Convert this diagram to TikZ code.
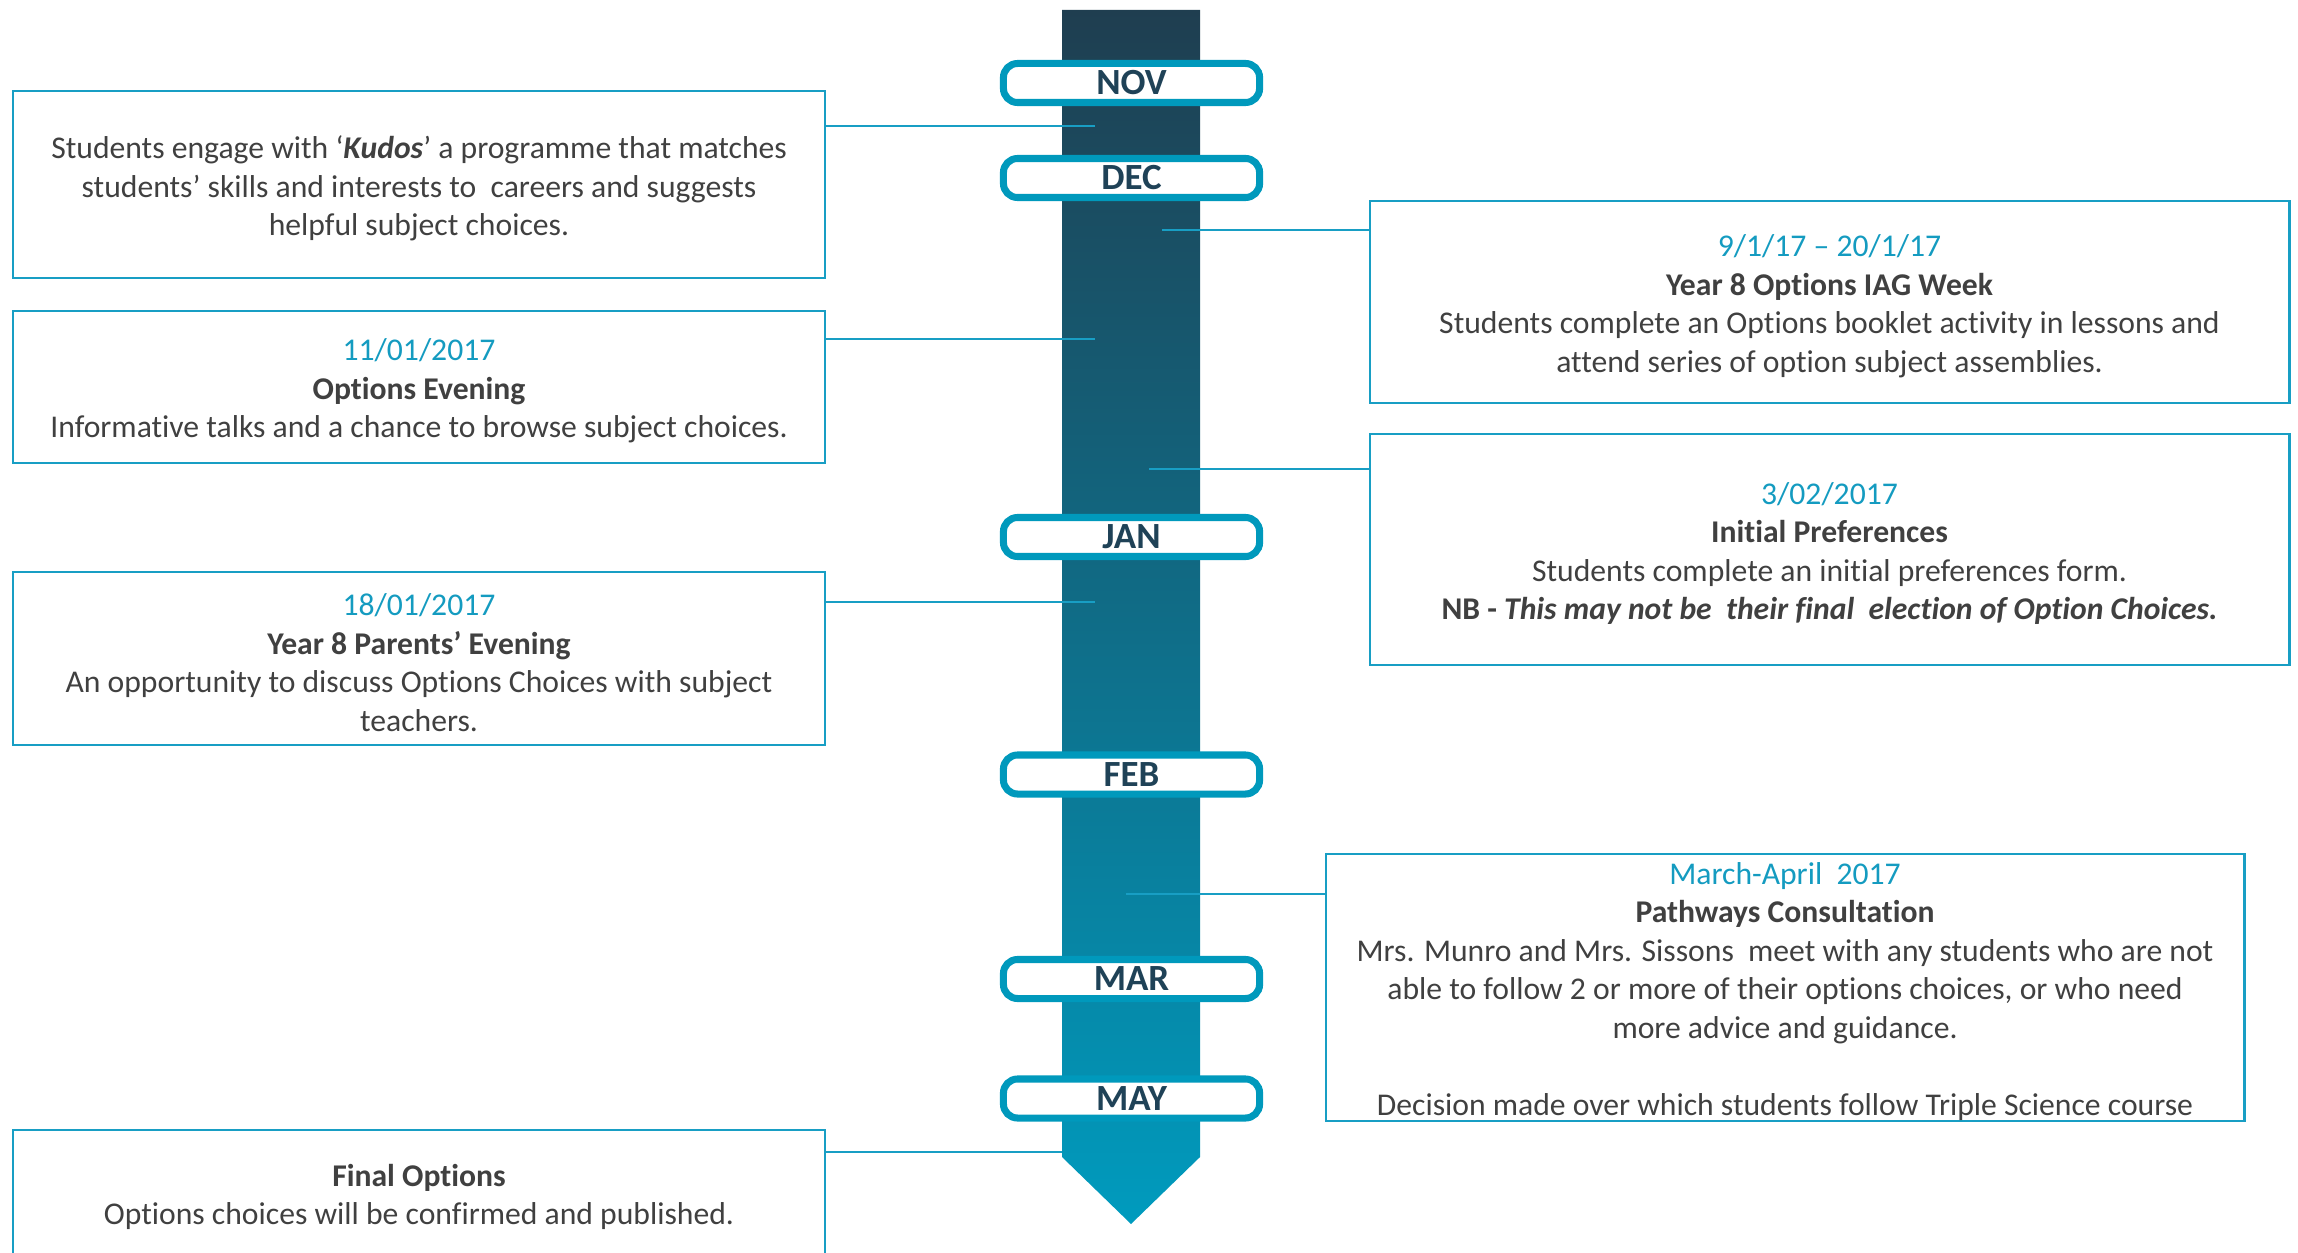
\documentclass[tikz,border=0pt]{standalone}
\usepackage{fontspec}
\setmainfont{Carlito}[Ligatures=NoCommon]
\definecolor{boxline}{RGB}{24,158,196}
\definecolor{monthline}{RGB}{0,153,188}
\definecolor{monthtext}{RGB}{31,66,87}
\definecolor{bodytext}{RGB}{64,64,64}
\definecolor{datecol}{RGB}{20,155,192}
\definecolor{arrowtop}{RGB}{31,62,80}
\definecolor{arrowbot}{RGB}{0,155,190}
\newcommand\evdate[1]{\textcolor{datecol}{#1}}
\begin{document}
\begin{tikzpicture}[x=0.01cm,y=-0.01cm,
  evbox/.style={draw=boxline, line width=0.7pt, inner sep=0pt},
  evtext/.style={inner sep=0pt, align=center,
    font=\fontsize{9}{10.95}\selectfont, text=bodytext},
  monthbox/.style={draw=monthline, line width=2pt, fill=white, rounded corners=4pt,
    minimum width=2.56cm, minimum height=0.39cm, inner sep=0pt,
    font=\fontsize{10.5}{12}\selectfont\bfseries, text=monthtext},
  conn/.style={draw=boxline, line width=0.6pt}]
\useasboundingbox (0,0) rectangle (2298,1252);
\clip (0,0) rectangle (2298,1252);

% timeline arrow
\shade[top color=arrowtop, bottom color=arrowbot]
  (1062,10) -- (1200,10) -- (1200,1157) -- (1131,1224) -- (1062,1157) -- cycle;

% connector ends
\coordinate (c1) at (1095,126);
\coordinate (c2) at (1095,339);
\coordinate (c3) at (1095,602);
\coordinate (c4) at (1062,1152);
\coordinate (r1) at (1162,230);
\coordinate (r2) at (1149,469);
\coordinate (r3) at (1126,894);

% event boxes
\node[evbox, minimum width=8.12cm, minimum height=1.87cm] (b1) at (419,184.5) {};
\node[evbox, minimum width=8.12cm, minimum height=1.52cm] (b2) at (419,387) {};
\node[evbox, minimum width=8.12cm, minimum height=1.73cm] (b3) at (419,658.5) {};
\node[evbox, minimum width=8.12cm, minimum height=1.26cm] (b4) at (419,1193) {};
\node[evbox, minimum width=9.19cm, minimum height=2.02cm] (e1) at (1829.5,302) {};
\node[evbox, minimum width=9.19cm, minimum height=2.31cm] (e2) at (1829.5,549.5) {};
\node[evbox, minimum width=9.18cm, minimum height=2.67cm] (e3) at (1785,987.5) {};

% event texts
\node[evtext] (t1) at ([yshift=-0.04cm]b1.center)
  {Students engage with ‘\textbf{\textit{Kudos}}’ a programme that matches\\
   students’ skills and interests to\ \ careers and suggests\\
   helpful subject choices.};
\node[evtext] (t2) at ([yshift=-0.04cm]b2.center)
  {\evdate{11/01/2017}\\
   \textbf{Options Evening}\\
   Informative talks and a chance to browse subject choices.};
\node[evtext] (t3) at ([yshift=-0.04cm]b3.center)
  {\evdate{18/01/2017}\\
   \textbf{Year 8 Parents’ Evening}\\
   An opportunity to discuss Options Choices with subject\\
   teachers.};
\node[evtext] (t4) at ([yshift=-0.04cm]b4.center)
  {\textbf{Final Options}\\
   Options choices will be confirmed and published.};
\node[evtext] (u1) at ([yshift=-0.04cm]e1.center)
  {\evdate{9/1/17 – 20/1/17}\\
   \textbf{Year 8 Options IAG Week}\\
   Students complete an Options booklet activity in lessons and\\
   attend series of option subject assemblies.};
\node[evtext] (u2) at ([yshift=-0.04cm]e2.center)
  {\evdate{3/02/2017}\\
   \textbf{Initial Preferences}\\
   Students complete an initial preferences form.\\
   \textbf{NB -} \textbf{\textit{This may not be\ \ their final\ \ election of Option Choices.}}};
\node[evtext] (u3) at ([yshift=-0.04cm]e3.center)
  {\evdate{March-April\ \ 2017}\\
   \textbf{Pathways Consultation}\\
   Mrs. Munro and Mrs. Sissons\ \ meet with any students who are not\\
   able to follow 2 or more of their options choices, or who need\\
   more advice and guidance.\\[10.95pt]
   Decision made over which students follow Triple Science course};

% connectors
\draw[conn] (c1 -| b1.east) -- (c1);
\draw[conn] (c2 -| b2.east) -- (c2);
\draw[conn] (c3 -| b3.east) -- (c3);
\draw[conn] (c4 -| b4.east) -- (c4);
\draw[conn] (r1) -- (r1 -| e1.west);
\draw[conn] (r2) -- (r2 -| e2.west);
\draw[conn] (r3) -- (r3 -| e3.west);

% month markers
\node[monthbox] (nov) at (1131.5,83) {NOV};
\node[monthbox] (dec) at (1131.5,178) {DEC};
\node[monthbox] (jan) at (1131.5,537) {JAN};
\node[monthbox] (feb) at (1131.5,774.5) {FEB};
\node[monthbox] (mar) at (1131.5,979) {MAR};
\node[monthbox] (may) at (1131.5,1098.5) {MAY};
\end{tikzpicture}
\end{document}
